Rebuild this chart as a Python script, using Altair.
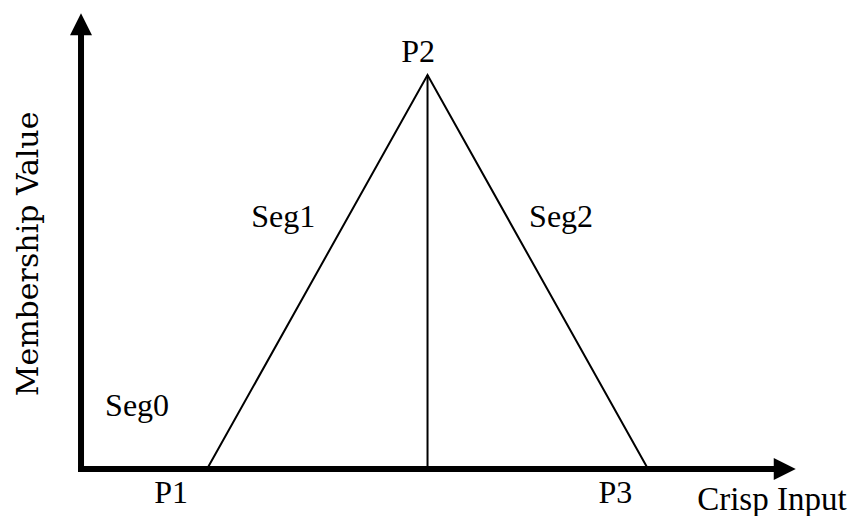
import altair as alt
import pandas as pd

# Membership function key points (crisp input, membership value)
pt_names = ["P1", "P2", "P3"]
pt_x = [2.0, 5.5, 9.0]
pt_y = [0.0, 1.0, 0.0]

# Segment labels
seg_names = ["Seg0", "Seg1", "Seg2"]
seg_x = [0.89, 3.21, 7.62]
seg_y = [0.135, 0.614, 0.614]

# Point label anchors
lab_x = [1.43, 5.35, 8.48]
lab_y = [-0.086, 1.033, -0.086]

# Axis extents
x_axis_end = 10.98
y_axis_end = 1.10
x_arrow = 11.17
y_arrow = 1.129

X_DOM = [-1.159, 12.19]
Y_DOM = [-0.119, 1.170]

xs = alt.Scale(domain=X_DOM, nice=False, zero=False)
ys = alt.Scale(domain=Y_DOM, nice=False, zero=False)

FONT = "Times New Roman, Liberation Serif, DejaVu Serif, serif"
FONT_Y = "DejaVu Serif, serif"

tri_df = pd.DataFrame({"x": pt_x, "y": pt_y})
tri = alt.Chart(tri_df).mark_line(color="black", strokeWidth=2).encode(
    x=alt.X("x:Q", scale=xs, axis=None),
    y=alt.Y("y:Q", scale=ys, axis=None),
)

center_df = pd.DataFrame({"x": [pt_x[1]], "y": [0.0], "y2": [pt_y[1]]})
center = alt.Chart(center_df).mark_rule(color="black", strokeWidth=2).encode(
    x=alt.X("x:Q", scale=xs, axis=None),
    y=alt.Y("y:Q", scale=ys, axis=None),
    y2="y2:Q",
)

vax_df = pd.DataFrame({"x": [0.0], "y": [0.0], "y2": [y_axis_end]})
vax = alt.Chart(vax_df).mark_rule(color="black", strokeWidth=6, strokeCap="square").encode(
    x=alt.X("x:Q", scale=xs, axis=None),
    y=alt.Y("y:Q", scale=ys, axis=None),
    y2="y2:Q",
)

hax_df = pd.DataFrame({"x": [0.0], "x2": [x_axis_end], "y": [0.0]})
hax = alt.Chart(hax_df).mark_rule(color="black", strokeWidth=6, strokeCap="square").encode(
    x=alt.X("x:Q", scale=xs, axis=None),
    x2="x2:Q",
    y=alt.Y("y:Q", scale=ys, axis=None),
)

up_df = pd.DataFrame({"x": [0.0], "y": [y_arrow]})
up = alt.Chart(up_df).mark_point(
    shape="M-1,1L0,-1L1,1Z", size=484, filled=True, color="black", opacity=1, strokeWidth=0
).encode(x=alt.X("x:Q", scale=xs, axis=None), y=alt.Y("y:Q", scale=ys, axis=None))

right_df = pd.DataFrame({"x": [x_arrow], "y": [0.0]})
right = alt.Chart(right_df).mark_point(
    shape="M-1,-1L1,0L-1,1Z", size=484, filled=True, color="black", opacity=1, strokeWidth=0
).encode(x=alt.X("x:Q", scale=xs, axis=None), y=alt.Y("y:Q", scale=ys, axis=None))

seg_df = pd.DataFrame({"x": seg_x, "y": seg_y, "t": seg_names})
segs = alt.Chart(seg_df).mark_text(
    font=FONT, fontSize=32, color="black", align="center", baseline="alphabetic"
).encode(x=alt.X("x:Q", scale=xs, axis=None), y=alt.Y("y:Q", scale=ys, axis=None), text="t:N")

pl_df = pd.DataFrame({"x": lab_x, "y": lab_y, "t": pt_names})
pls = alt.Chart(pl_df).mark_text(
    font=FONT, fontSize=32, color="black", align="center", baseline="alphabetic"
).encode(x=alt.X("x:Q", scale=xs, axis=None), y=alt.Y("y:Q", scale=ys, axis=None), text="t:N")

xt_df = pd.DataFrame({"x": [9.78], "y": [-0.104], "t": ["Crisp Input"]})
xt = alt.Chart(xt_df).mark_text(
    font=FONT, fontSize=33, color="black", align="left", baseline="alphabetic"
).encode(x=alt.X("x:Q", scale=xs, axis=None), y=alt.Y("y:Q", scale=ys, axis=None), text="t:N")

yt_df = pd.DataFrame({"x": [-0.69], "y": [0.546], "t": ["Membership Value"]})
yt = alt.Chart(yt_df).mark_text(
    font=FONT_Y, fontSize=30, color="black", align="center", baseline="alphabetic", angle=270
).encode(x=alt.X("x:Q", scale=xs, axis=None), y=alt.Y("y:Q", scale=ys, axis=None), text="t:N")

chart = alt.layer(tri, center, vax, hax, up, right, segs, pls, xt, yt).properties(
    width=841, height=508, padding=0, background="white",
    autosize=alt.AutoSizeParams(type="none")
).configure_view(strokeWidth=0, stroke="transparent")

chart.save("out.html", embed_options={"renderer": "svg", "actions": False})
